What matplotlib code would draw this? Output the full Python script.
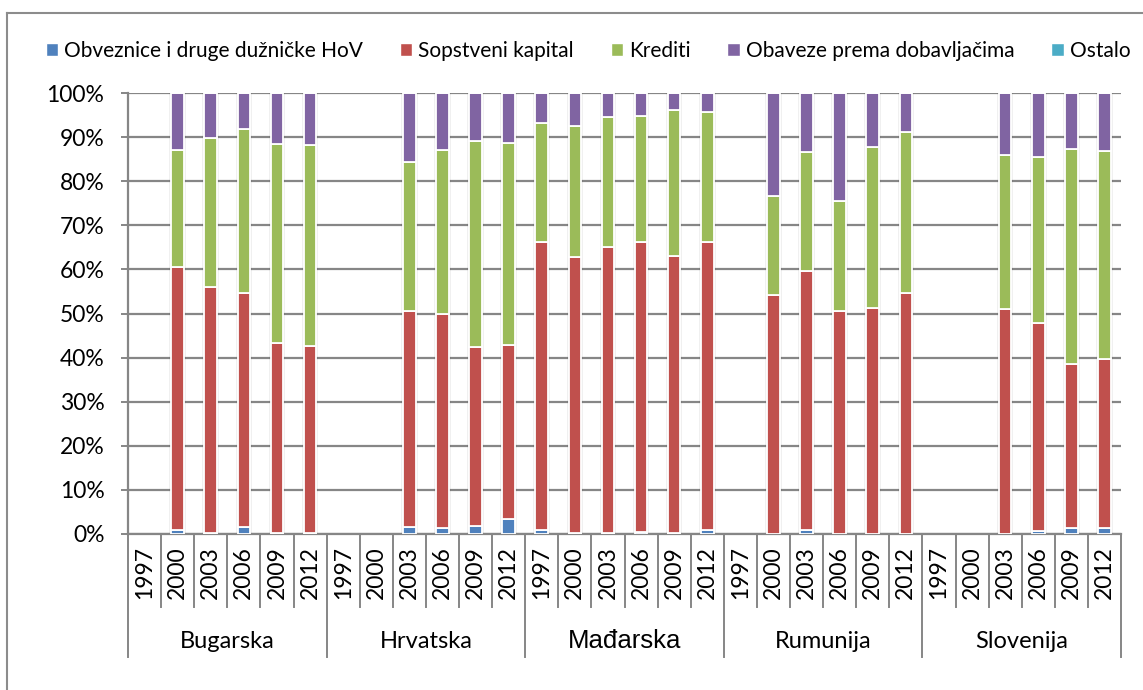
import numpy as np
import matplotlib.pyplot as plt
from matplotlib.patches import Patch

plt.rcParams['font.family'] = ['Lato', 'DejaVu Sans']

countries = ["Bugarska", "Hrvatska", "Mađarska", "Rumunija", "Slovenija"]
years = ["1997", "2000", "2003", "2006", "2009", "2012"]

series_names = ["Obveznice i druge dužničke HoV", "Sopstveni kapital", "Krediti",
                "Obaveze prema dobavljačima", "Ostalo"]
colors = ["#4F81BD", "#C0504D", "#9BBB59", "#8064A2", "#4BACC6"]

# shares in %, order: Bugarska, Hrvatska, Mađarska, Rumunija, Slovenija (1997..2012)
obveznice = [0, 0.8, 0.3, 1.7, 0.3, 0.3,
             0, 0, 1.7, 1.4, 1.8, 3.3,
             0.8, 0.2, 0.2, 0.5, 0.2, 0.8,
             0, 0.1, 1.0, 0.0, 0.0, 0.0,
             0, 0, 0.1, 0.6, 1.3, 1.3]
kapital = [0, 59.8, 55.7, 52.9, 42.9, 42.4,
           0, 0, 48.8, 48.5, 40.5, 39.5,
           65.5, 62.7, 64.8, 65.6, 62.9, 65.5,
           0, 54.0, 58.7, 50.6, 51.3, 54.7,
           0, 0, 50.9, 47.2, 37.2, 38.4]
krediti = [0, 26.4, 33.8, 37.2, 45.3, 45.4,
           0, 0, 33.8, 37.2, 46.9, 45.9,
           26.9, 29.6, 29.6, 28.7, 33.0, 29.5,
           0, 22.6, 27.0, 24.9, 36.4, 36.4,
           0, 0, 34.9, 37.8, 48.7, 47.2]
obaveze = [0, 13.0, 10.2, 8.2, 11.5, 11.9,
           0, 0, 15.7, 12.9, 10.8, 11.3,
           6.8, 7.5, 5.4, 5.2, 3.9, 4.2,
           0, 23.3, 13.3, 24.5, 12.3, 8.9,
           0, 0, 14.1, 14.4, 12.8, 13.1]
ostalo = [0] * 30

data = np.array([obveznice, kapital, krediti, obaveze, ostalo], dtype=float)
n = data.shape[1]
x = np.arange(n) + 0.5
totals = data.sum(axis=0)
has = totals > 0

W, H = 1143, 690
fig = plt.figure(figsize=(W / 100, H / 100), dpi=100)
ax = fig.add_axes([128 / W, 1 - 534 / H, (1121 - 128) / W, 441 / H])

grid_c = "#868686"
bw = 0.38
fs_ax = 16.5

# soft shadow behind bars
ax.bar(x[has], totals[has], width=bw + 0.12, color="#000000", alpha=0.06,
       linewidth=0, zorder=2)
bottom = np.zeros(n)
for vals, col in zip(data, colors):
    ax.bar(x[has], vals[has], width=bw, bottom=bottom[has], color=col,
           edgecolor="white", linewidth=1.3, zorder=3)
    bottom += vals

ax.set_xlim(0, n)
ax.set_ylim(0, 100)
ax.set_yticks(np.arange(0, 101, 10))
ax.set_yticklabels([f"{v}%" for v in range(0, 101, 10)], fontsize=fs_ax)
ax.yaxis.grid(True, color=grid_c, linewidth=1.6, zorder=1)
ax.set_axisbelow(True)
ax.tick_params(axis='y', length=5, width=1.4, color=grid_c, pad=12)
ax.set_xticks([])
for s in ["top", "right"]:
    ax.spines[s].set_visible(False)
for s in ["left", "bottom"]:
    ax.spines[s].set_color(grid_c)
    ax.spines[s].set_linewidth(1.6)

# category separators and labels
tr = ax.get_xaxis_transform()
yr_low = -(607 - 534) / 441
grp_low = -(657 - 534) / 441
ng = len(years)
for i in range(n + 1):
    low = grp_low if i % ng == 0 else yr_low
    ax.plot([i, i], [0, low], color=grid_c, lw=1.4, transform=tr, clip_on=False)
for i in range(n):
    ax.text(i + 0.5, -(546 - 534) / 441, years[i % ng], rotation=90,
            ha="center", va="top", fontsize=fs_ax, transform=tr)
for k, c in enumerate(countries):
    if c == "Mađarska":
        fam, fs = ['Liberation Sans', 'DejaVu Sans'], 18.5
    else:
        fam, fs = ['Lato', 'DejaVu Sans'], 17
    ax.text(k * ng + ng / 2, -(641 - 534) / 441, c, ha="center", va="center",
            fontsize=fs, family=fam, transform=tr)

# legend
handles = [Patch(facecolor=c, edgecolor="white", label=l)
           for c, l in zip(colors, series_names)]
fig.legend(handles=handles, loc="center", bbox_to_anchor=(588 / W, 1 - 51 / H),
           ncol=5, frameon=False, fontsize=15, handlelength=0.6,
           handleheight=0.6, handletextpad=0.3, columnspacing=1.75,
           borderaxespad=0)

# outer chart border
fig.add_artist(plt.Line2D([7 / W, 7 / W], [0, 1 - 13 / H], color="#8c8c8c", lw=1.5))
fig.add_artist(plt.Line2D([7 / W, 1], [1 - 13 / H, 1 - 13 / H], color="#8c8c8c", lw=1.5))

fig.savefig("out.png", dpi=100)
